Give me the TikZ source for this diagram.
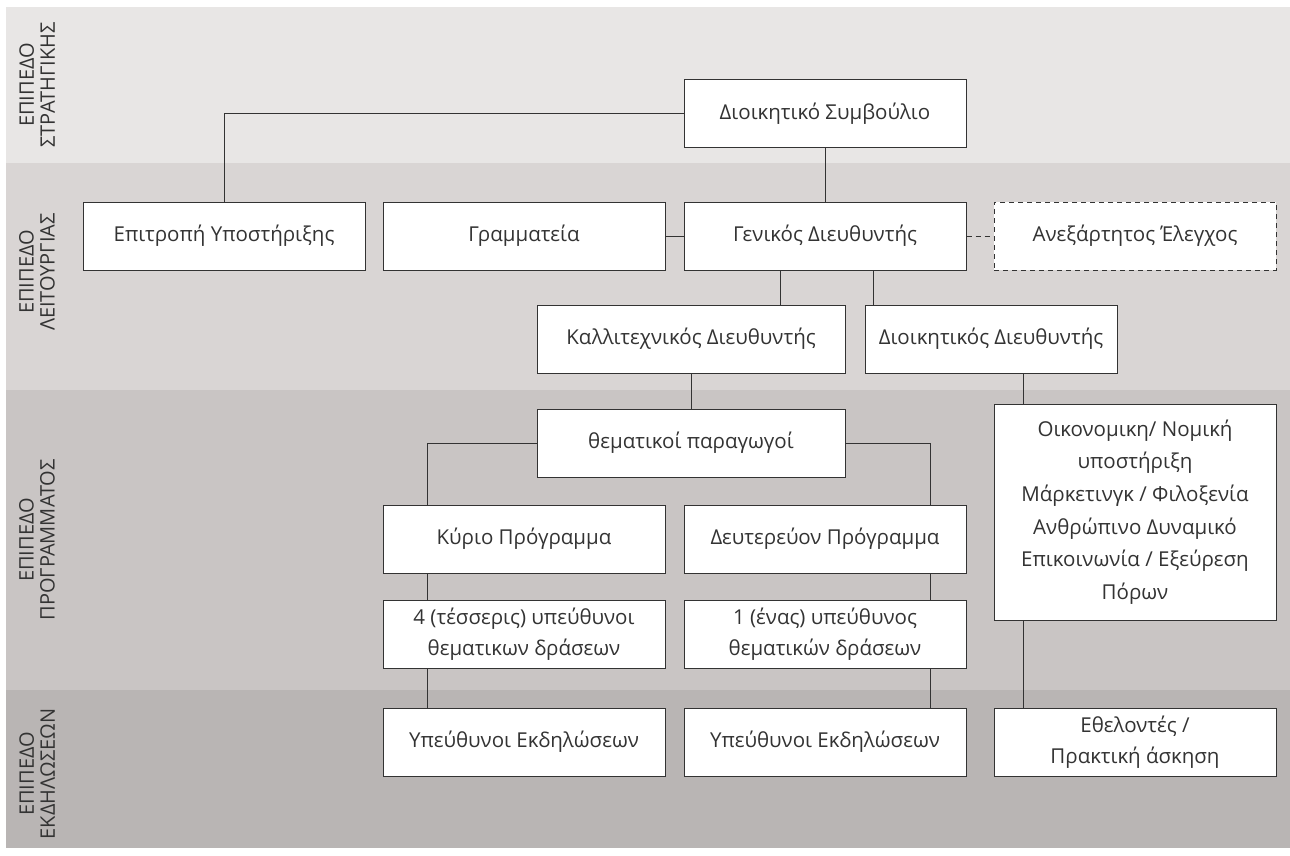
\documentclass[tikz,border=0pt]{standalone}
\usepackage{fontspec}
\setmainfont{Open Sans}
\definecolor{bandone}{HTML}{E8E6E5}
\definecolor{bandtwo}{HTML}{D9D5D4}
\definecolor{bandthree}{HTML}{C9C5C4}
\definecolor{bandfour}{HTML}{B9B5B4}
\definecolor{inkgray}{HTML}{333333}

\begin{document}
\begin{tikzpicture}[x=1pt,y=-1pt,
  box/.style={draw=inkgray,line width=1pt,fill=white,text=inkgray,align=center,
    minimum width=282pt,minimum height=68pt,inner sep=2pt,
    font=\fontsize{20.5}{31}\selectfont},
  lvl/.style={rotate=90,align=center,text=inkgray,
    font=\fontsize{20}{21}\selectfont},
  link/.style={draw=inkgray,line width=1pt}]

\useasboundingbox (0,0) rectangle (1290,856);

% level bands
\fill[bandone]   (6,7)   rectangle (1290,163);
\fill[bandtwo]   (6,163) rectangle (1290,390);
\fill[bandthree] (6,390) rectangle (1290,690);
\fill[bandfour]  (6,690) rectangle (1290,848);

\node[lvl] (lvlone)   at (37,85)  {ΕΠΙΠΕΔΟ\\ΣΤΡΑΤΗΓΙΚΗΣ};
\node[lvl] (lvltwo)   at (37,272) {ΕΠΙΠΕΔΟ\\ΛΕΙΤΟΥΡΓΙΑΣ};
\node[lvl] (lvlthree) at (37,540) {ΕΠΙΠΕΔΟ\\ΠΡΟΓΡΑΜΜΑΤΟΣ};
\node[lvl] (lvlfour)  at (37,774) {ΕΠΙΠΕΔΟ\\ΕΚΔΗΛΩΣΕΩΝ};

% boxes
\node[box] (board)  at (825,114) {Διοικητικό Συμβούλιο};
\node[box] (support) at (224,236) {Επιτροπή Υποστήριξης};
\node[box] (secr)   at (524,236) {Γραμματεία};
\node[box] (gendir) at (825,236) {Γενικός Διευθυντής};
\node[box,dash pattern=on 5pt off 4pt] (audit) at (1135,236) {Ανεξάρτητος Έλεγχος};
\node[box,minimum width=308pt] (artdir) at (691,339) {Καλλιτεχνικός Διευθυντής};
\node[box,minimum width=252pt] (admdir) at (991,339) {Διοικητικός Διευθυντής};
\node[box,minimum width=308pt] (themprod) at (691,443) {θεματικοί παραγωγοί};
\node[box] (mainprog) at (524,539) {Κύριο Πρόγραμμα};
\node[box] (secprog)  at (825,539) {Δευτερεύον Πρόγραμμα};
\node[box] (fourresp) at (524,634) {4 (τέσσερις) υπεύθυνοι\\θεματικων δράσεων};
\node[box] (oneresp)  at (825,634) {1 (ένας) υπεύθυνος\\θεματικών δράσεων};
\node[box] (eventsa)  at (524,742) {Υπεύθυνοι Εκδηλώσεων};
\node[box] (eventsb)  at (825,742) {Υπεύθυνοι Εκδηλώσεων};
\node[box,minimum height=216pt,font=\fontsize{20.5}{32.6}\selectfont] (services) at (1135,512)
  {Οικονομικη/ Νομική\\υποστήριξη\\Μάρκετινγκ / Φιλοξενία\\Ανθρώπινο Δυναμικό\\Επικοινωνία / Εξεύρεση\\Πόρων};
\node[box] (volunt) at (1135,742) {Εθελοντές /\\Πρακτική άσκηση};

% connectors
\draw[link] (board.west) -| (support.north);
\draw[link] (board.south) -- (gendir.north);
\draw[link] (secr.east) -- (gendir.west);
\draw[link,dash pattern=on 5pt off 4pt] (gendir.east) -- (audit.west);
\draw[link] ([xshift=-45]gendir.south) -- ([xshift=-45]gendir.south |- artdir.north);
\draw[link] ([xshift=48]gendir.south) -- ([xshift=48]gendir.south |- admdir.north);
\draw[link] (artdir.south) -- (themprod.north);
\draw[link] ([xshift=32]admdir.south) -- ([xshift=32]admdir.south |- services.north);
\draw[link] (themprod.west) -| ([xshift=-97]mainprog.north);
\draw[link] (themprod.east) -| ([xshift=105]secprog.north);
\draw[link] ([xshift=-97]mainprog.south) -- ([xshift=-97]fourresp.north);
\draw[link] ([xshift=-97]fourresp.south) -- ([xshift=-97]eventsa.north);
\draw[link] ([xshift=105]secprog.south) -- ([xshift=105]oneresp.north);
\draw[link] ([xshift=105]oneresp.south) -- ([xshift=105]eventsb.north);
\draw[link] ([xshift=-112]services.south) -- ([xshift=-112]volunt.north);

\end{tikzpicture}
\end{document}
